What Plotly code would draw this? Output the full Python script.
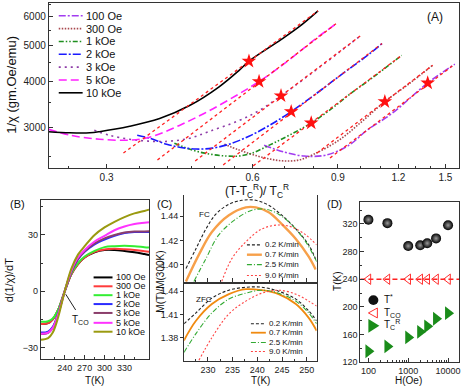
import math
import plotly.graph_objects as go

W, H = 463, 392
FONT = "Liberation Sans, Arial, sans-serif"

# ---------------- Panel A data: 1/chi vs reduced temperature ----------------
field_labels = ["100 Oe", "300 Oe", "1 kOe", "2 kOe", "3 kOe", "5 kOe", "10 kOe"]
a_x_100 = [0.634, 0.697, 0.767, 0.851, 0.949, 1.033, 1.163, 1.379, 1.568]
a_y_100 = [2684, 2570, 2507, 2522, 2684, 2945, 3272, 3963, 4459]
a_x_300 = [0.525, 0.563, 0.605, 0.650, 0.697, 0.749, 0.804, 0.905, 1.009, 1.125, 1.261, 1.412]
a_y_300 = [2700, 2602, 2522, 2461, 2431, 2446, 2538, 2770, 3113, 3525, 3940, 4431]
a_x_1k = [0.414, 0.451, 0.489, 0.530, 0.563, 0.599, 0.650, 0.714, 0.793, 0.863, 0.949, 1.058, 1.219]
a_y_1k = [2717, 2602, 2538, 2507, 2507, 2554, 2684, 2855, 3084, 3333, 3681, 4088, 4713]
a_x_2k = [0.347, 0.368, 0.399, 0.424, 0.459, 0.496, 0.537, 0.590, 0.650, 0.721, 0.811, 0.918, 1.043, 1.110]
a_y_2k = [2855, 2803, 2700, 2650, 2619, 2634, 2700, 2838, 3037, 3312, 3703, 4192, 4744, 5077]
a_x_3k = [0.283, 0.304, 0.335, 0.368, 0.404, 0.445, 0.489, 0.563, 0.619, 0.687, 0.785, 0.905, 1.009]
a_y_3k = [2945, 2855, 2784, 2751, 2751, 2803, 2926, 3132, 3333, 3657, 4164, 4802, 5368]
a_x_5k = [0.228, 0.252, 0.290, 0.335, 0.368, 0.424, 0.489, 0.563, 0.619, 0.691, 0.811, 0.892]
a_y_5k = [2963, 2857, 2786, 2770, 2820, 3037, 3333, 3703, 4000, 4431, 5238, 5744]
a_x_10k = [0.228, 0.252, 0.277, 0.290, 0.335, 0.386, 0.445, 0.512, 0.563, 0.590, 0.687, 0.749, 0.819]
a_y_10k = [2920, 2900, 2900, 2920, 3020, 3170, 3440, 3870, 4290, 4543, 5200, 5640, 6230]

# linear (log-log) fits, one per field (same order as field_labels)
fit_x0 = [0.867, 0.815, 0.602, 0.522, 0.457, 0.382, 0.325]
fit_y0 = [2477, 2554, 2357, 2371, 2431, 2446, 2554]
fit_x1 = [1.568, 1.412, 1.219, 1.110, 1.009, 0.892, 0.819]
fit_y1 = [4459, 4431, 4713, 5077, 5368, 5744, 6230]
star_x = [1.379, 1.125, 0.793, 0.721, 0.687, 0.619, 0.590]
star_y = [3963, 3525, 3084, 3312, 3657, 4000, 4543]

a_xticks = [0.3, 0.6, 0.9, 1.2, 1.5]
a_yticks = [3000, 4000, 5000, 6000]

# ---------------- Panel B data: d(1/chi)/dT vs T ----------------
b_T = [204, 215, 222, 230, 240, 250, 260, 270, 285, 300, 315, 330, 345, 360, 367]
b_100 = [-17.4, -17.0, -15.0, -10.0, 0, 9.0, 14.5, 18.0, 20.8, 22.0, 22.0, 21.5, 20.8, 19.8, 19.3]
b_300 = [-17.4, -17.0, -15.0, -10.0, 0, 9.0, 14.5, 18.0, 21.0, 22.3, 22.6, 22.4, 22.0, 21.3, 21.0]
b_1k = [-16.3, -16.0, -14.5, -10.0, 0, 9.5, 15.0, 18.5, 21.5, 23.5, 24.0, 24.2, 24.0, 23.5, 23.3]
b_2k = [-22.0, -21.5, -19.0, -12.0, 0, 10.5, 17.0, 21.0, 25.0, 27.5, 29.5, 31.0, 31.5, 31.5, 31.5]
b_3k = [-22.8, -22.2, -19.5, -12.3, 0, 10.5, 17.2, 21.3, 25.5, 28.2, 30.0, 31.3, 31.8, 31.8, 31.9]
b_5k = [-22.6, -22.0, -19.5, -12.5, 0, 11.0, 18.0, 22.0, 26.5, 29.5, 32.5, 34.5, 35.8, 36.5, 36.8]
b_10k = [-25.8, -25.0, -22.0, -14.0, 0, 12.0, 19.5, 24.0, 30.0, 34.0, 37.0, 39.5, 41.5, 42.8, 43.5]
b_xticks = [240, 270, 300, 330]
b_yticks = [-30, 0, 30]

# ---------------- Panel C data: M(T)/M(300K) ----------------
rate_labels = ["0.2 K/min", "0.7 K/min", "2.5 K/min", "9.0 K/min"]
fc_T_02 = [225.56, 227.58, 229.6, 231.6, 234.24, 236.87, 239.7, 242.3, 244.95, 247.8, 250.4, 252.0]
fc_M_02 = [1.3967, 1.4131, 1.4294, 1.4416, 1.4498, 1.4531, 1.4531, 1.4490, 1.4408, 1.4294, 1.4163, 1.4025]
fc_T_07 = [225.56, 228.18, 230.8, 234.24, 237.68, 239.7, 242.3, 244.95, 247.8, 250.4, 251.8]
fc_M_07 = [1.3861, 1.4082, 1.4269, 1.4408, 1.4473, 1.4473, 1.4433, 1.4335, 1.4212, 1.4065, 1.3959]
fc_T_25 = [227.17, 229.6, 232.2, 235.66, 238.9, 241.7, 244.3, 247.0, 249.8, 252.0]
fc_M_25 = [1.3861, 1.4049, 1.4245, 1.4376, 1.4449, 1.4457, 1.4416, 1.4327, 1.4188, 1.4025]
fc_T_90 = [232.8, 234.85, 237.68, 240.9, 244.3, 247.0, 249.8, 252.0]
fc_M_90 = [1.3861, 1.4049, 1.4188, 1.4294, 1.4327, 1.4310, 1.4245, 1.4163]

zfc_T = [225.15, 227.58, 230.8, 234.24, 237.68, 240.9, 244.3, 247.8, 250.4, 252.0]
zfc_M_02 = [1.3979, 1.4119, 1.4311, 1.4413, 1.4451, 1.4451, 1.4400, 1.4298, 1.4145, 1.4017]
zfc_M_07 = [1.3762, 1.4017, 1.4234, 1.4362, 1.4426, 1.4413, 1.4362, 1.4234, 1.4055, 1.3889]
zfc_M_25 = [1.3608, 1.3851, 1.4119, 1.4298, 1.4374, 1.4413, 1.4374, 1.4272, 1.4119, 1.3979]
zfc_T_90 = [228.18, 230.8, 234.24, 237.68, 240.9, 244.3, 247.8, 250.4, 252.0]
zfc_M_90 = [1.3506, 1.3800, 1.4106, 1.4272, 1.4374, 1.4413, 1.4362, 1.4272, 1.4208]
c_xticks = [230, 235, 240, 245, 250]

# ---------------- Panel D data ----------------
d_field = [100, 300, 1000, 2000, 3000, 5000, 10000]
d_tstar = [326, 321, 288, 289, 292, 299, 318]
d_tco = [240, 240, 240, 240, 240, 240, 240]
d_tcr = [136, 143, 156, 164, 172, 183, 191]
d_yticks = [120, 160, 200, 240, 280, 320]
d_xticks = [100, 1000, 10000]


def PX(p):
    return p / W


def PY(p):
    return 1 - p / H


fig = go.Figure()

# ---- Panel A traces ----
a_x = [a_x_100, a_x_300, a_x_1k, a_x_2k, a_x_3k, a_x_5k, a_x_10k]
a_y = [a_y_100, a_y_300, a_y_1k, a_y_2k, a_y_3k, a_y_5k, a_y_10k]
a_colors = ["#a23cf0", "#a8484e", "#1f8f1f", "#1a1aff", "#8e3ca8", "#ff20ff", "#000000"]
a_dash = ["7px,2px,2px,2px", "1.5px,1.5px", "5px,2px,1.5px,2px,1.5px,2px",
          "8px,2px,2px,2px", "2px,4px", "8px,4px", "solid"]
for xs, ys, c, d in zip(a_x, a_y, a_colors, a_dash):
    fig.add_trace(go.Scatter(x=xs, y=ys, mode="lines", xaxis="x", yaxis="y",
                             line=dict(color=c, width=1.6, dash=d, shape="spline", smoothing=1.0),
                             showlegend=False, hoverinfo="skip"))
for x0, y0, x1, y1 in zip(fit_x0, fit_y0, fit_x1, fit_y1):
    fig.add_trace(go.Scatter(x=[x0, x1], y=[y0, y1], mode="lines", xaxis="x", yaxis="y",
                             line=dict(color="#ff2020", width=1.3, dash="3px,3px"),
                             showlegend=False, hoverinfo="skip"))
fig.add_trace(go.Scatter(x=star_x, y=star_y, mode="markers", xaxis="x", yaxis="y",
                         marker=dict(symbol="star", size=11, color="#ff1010", line=dict(width=0)),
                         showlegend=False, hoverinfo="skip"))

# ---- Panel B traces ----
b_vals = [b_100, b_300, b_1k, b_2k, b_3k, b_5k, b_10k]
b_colors = ["#000000", "#ff3b3b", "#33ee33", "#2b2bff", "#8b3d6b", "#ff33ff", "#9a9a10"]
for v, c in zip(b_vals, b_colors):
    fig.add_trace(go.Scatter(x=b_T, y=v, mode="lines", xaxis="x2", yaxis="y2",
                             line=dict(color=c, width=2, shape="spline", smoothing=1.0),
                             showlegend=False, hoverinfo="skip"))

# ---- Panel C traces ----
c_colors = ["#222222", "#f7a04a", "#33aa33", "#ff4444"]
c_dash = ["3px,2px", "solid", "5px,2px,1px,2px", "2px,2px"]
c_width = [1.1, 2.4, 1.1, 1.1]
fc_T = [fc_T_02, fc_T_07, fc_T_25, fc_T_90]
fc_M = [fc_M_02, fc_M_07, fc_M_25, fc_M_90]
for t, m, c, d, w in zip(fc_T, fc_M, c_colors, c_dash, c_width):
    fig.add_trace(go.Scatter(x=t, y=m, mode="lines", xaxis="x3", yaxis="y3",
                             line=dict(color=c, width=w, dash=d, shape="spline", smoothing=1.0),
                             showlegend=False, hoverinfo="skip"))
zfc_Ts = [zfc_T, zfc_T, zfc_T, zfc_T_90]
zfc_Ms = [zfc_M_02, zfc_M_07, zfc_M_25, zfc_M_90]
zfc_colors = ["#222222", "#f08a10", "#33aa33", "#ff4444"]
zfc_width = [1.1, 1.8, 1.1, 1.1]
for t, m, c, d, w in zip(zfc_Ts, zfc_Ms, zfc_colors, c_dash, zfc_width):
    fig.add_trace(go.Scatter(x=t, y=m, mode="lines", xaxis="x4", yaxis="y4",
                             line=dict(color=c, width=w, dash=d, shape="spline", smoothing=1.0),
                             showlegend=False, hoverinfo="skip"))

# ---- Panel D traces ----
fig.add_trace(go.Scatter(x=d_field, y=d_tstar, mode="markers", xaxis="x5", yaxis="y5",
                         marker=dict(symbol="circle", size=10, color="#000000",
                                     gradient=dict(type="radial", color="#9a9a9a"), line=dict(width=0)),
                         showlegend=False, hoverinfo="skip"))
fig.add_trace(go.Scatter(x=d_field, y=d_tco, mode="markers", xaxis="x5", yaxis="y5",
                         marker=dict(symbol="triangle-left-open", size=9, color="#ff3030", line=dict(width=1)),
                         showlegend=False, hoverinfo="skip"))
fig.add_trace(go.Scatter(x=d_field, y=d_tcr, mode="markers", xaxis="x5", yaxis="y5",
                         marker=dict(symbol="triangle-right", size=12, color="#1a8c1a", line=dict(width=0)),
                         showlegend=False, hoverinfo="skip"))


# ---- Axes ----
def axis(**kw):
    d = dict(showline=True, linecolor="#333333", linewidth=1, mirror=True, ticks="inside",
             ticklen=4, tickcolor="#333333", showgrid=False, zeroline=False,
             tickfont=dict(family=FONT, size=9, color="#222222"))
    d.update(kw)
    return d


minor_in = dict(ticks="inside", ticklen=2, tickcolor="#333333")

fig.update_layout(
    xaxis=axis(type="log", range=[math.log10(0.228), math.log10(1.60)],
               domain=[PX(49), PX(461)], anchor="y", tickmode="array",
               tickvals=a_xticks, ticktext=[str(v) for v in a_xticks],
               tickfont=dict(family=FONT, size=10, color="#222222"),
               minor=dict(tickmode="array", tickvals=[0.25, 0.35, 0.4, 0.45, 0.5, 0.55, 0.7, 0.8,
                                                      1.0, 1.1, 1.3, 1.4], **minor_in)),
    yaxis=axis(type="log", range=[math.log10(2328), math.log10(6547)],
               domain=[PY(170), PY(3)], anchor="x", tickmode="array",
               tickvals=a_yticks, ticktext=[str(v) for v in a_yticks],
               tickfont=dict(family=FONT, size=10, color="#222222"),
               minor=dict(tickmode="array", tickvals=[2500, 3500, 4500, 5500, 6500], **minor_in)),
    xaxis2=axis(range=[204, 367.5], domain=[PX(41), PX(150)], anchor="y2",
                tickmode="array", tickvals=b_xticks,
                minor=dict(tickmode="array", tickvals=[225, 255, 285, 315, 345], **minor_in)),
    yaxis2=axis(range=[-36.3, 48.4], domain=[PY(364), PY(203)], anchor="x2",
                tickmode="array", tickvals=b_yticks,
                minor=dict(tickmode="array", tickvals=[-15, 15, 45], **minor_in)),
    xaxis3=axis(range=[225.2, 252.0], domain=[PX(185), PX(318)], anchor="y3",
                tickmode="array", tickvals=c_xticks, showticklabels=False, mirror=False,
                minor=dict(tickmode="array", tickvals=[227.5, 232.5, 237.5, 242.5, 247.5], **minor_in)),
    yaxis3=axis(range=[1.3853, 1.4571], domain=[PY(286), PY(198)], anchor="x3",
                tickmode="array", tickvals=[1.40, 1.42, 1.44], ticktext=["1.40", "1.42", "1.44"],
                ticks="outside", ticklen=3),
    xaxis4=axis(range=[225.2, 252.0], domain=[PX(185), PX(318)], anchor="y4",
                tickmode="array", tickvals=c_xticks,
                minor=dict(tickmode="array", tickvals=[227.5, 232.5, 237.5, 242.5, 247.5], **minor_in)),
    yaxis4=axis(range=[1.3493, 1.4489], domain=[PY(366), PY(288)], anchor="x4",
                tickmode="array", tickvals=[1.38, 1.41, 1.44], ticktext=["1.38", "1.41", "1.44"],
                ticks="outside", ticklen=3),
    xaxis5=axis(type="log", range=[1.8, 4.275], domain=[PX(362), PX(461)], anchor="y5",
                tickmode="array", tickvals=d_xticks, ticktext=[str(v) for v in d_xticks],
                minor=dict(tickmode="array", tickvals=[200, 300, 400, 500, 600, 700, 800, 900,
                                                       2000, 3000, 4000, 5000, 6000, 7000, 8000, 9000],
                           **minor_in)),
    yaxis5=axis(range=[120, 351], domain=[PY(367), PY(205)], anchor="x5",
                tickmode="array", tickvals=d_yticks,
                minor=dict(tickmode="array", tickvals=[140, 180, 220, 260, 300, 340], **minor_in)),
)

# ---- Shapes: D reference line, legends, arrow ----
shapes = []
shapes.append(dict(type="line", xref="x5 domain", yref="y5", x0=0, x1=1, y0=d_tco[0], y1=d_tco[0],
                   line=dict(color="#ff2020", width=1.5, dash="5px,3px"), layer="below"))

annotations = []


def text(px, py, s, size, xanchor="center", yanchor="middle", angle=0, color="#111111"):
    annotations.append(dict(x=PX(px), y=PY(py), xref="paper", yref="paper", text=s, showarrow=False,
                            xanchor=xanchor, yanchor=yanchor, textangle=angle,
                            font=dict(family=FONT, size=size, color=color)))


# legend A
a_rows = [16, 29, 42, 55, 68, 81, 94]
for py, lab, c, d in zip(a_rows, field_labels, a_colors, a_dash):
    shapes.append(dict(type="line", xref="paper", yref="paper", x0=PX(59), x1=PX(83), y0=PY(py), y1=PY(py),
                       line=dict(color=c, width=1.6, dash=d)))
    text(84, py, lab, 11, xanchor="left")

# legend B
b_rows = [281, 290, 299, 308, 317, 327, 336]
for py, lab, c in zip(b_rows, field_labels, b_colors):
    shapes.append(dict(type="line", xref="paper", yref="paper", x0=PX(94), x1=PX(113), y0=PY(py), y1=PY(py),
                       line=dict(color=c, width=2)))
    text(114, py, lab, 9, xanchor="left")

# legend C (FC and ZFC)
for rows, x0, cols, widths in (([248, 258, 268, 279], 248, c_colors, c_width),
                               ([328, 337, 347, 356], 252, zfc_colors, zfc_width)):
    for py, lab, c, d, w in zip(rows, rate_labels, cols, c_dash, widths):
        shapes.append(dict(type="line", xref="paper", yref="paper", x0=PX(x0), x1=PX(x0 + 15),
                           y0=PY(py), y1=PY(py), line=dict(color=c, width=w, dash=d)))
        text(x0 + 16, py, lab, 8, xanchor="left")

# legend D glyphs
shapes.append(dict(type="circle", xref="paper", yref="paper", x0=PX(370), x1=PX(380), y0=PY(309), y1=PY(299),
                   fillcolor="#111111", line=dict(color="#111111", width=0)))
shapes.append(dict(type="path", xref="paper", yref="paper",
                   path=f"M {PX(370)} {PY(317)} L {PX(379)} {PY(312)} L {PX(379)} {PY(322)} Z",
                   line=dict(color="#ff3030", width=1)))
shapes.append(dict(type="path", xref="paper", yref="paper",
                   path=f"M {PX(381)} {PY(330)} L {PX(370)} {PY(323)} L {PX(370)} {PY(337)} Z",
                   fillcolor="#1a8c1a", line=dict(color="#1a8c1a", width=0)))
text(384, 303, "T<sup>*</sup>", 10, xanchor="left")
text(384, 317, "T<sub>CO</sub>", 10, xanchor="left")
text(384, 329, "T<sub>C</sub><sup>R</sup>", 10, xanchor="left")

# B arrow to T_CO
shapes.append(dict(type="line", xref="paper", yref="paper", x0=PX(76), x1=PX(66), y0=PY(314), y1=PY(298),
                   line=dict(color="#222222", width=1)))
text(81, 324, "T<sub>CO</sub>", 10)

# panel labels & axis titles
text(437, 17, "(A)", 12)
text(18, 207, "(B)", 11)
text(165, 207, "(C)", 11)
text(336, 207, "(D)", 11)
text(258, 193, "(T-T<sub>C</sub><sup>R</sup>)/ T<sub>C</sub><sup>R</sup>", 12)
text(12, 86, "1/χ (gm.Oe/emu)", 13, angle=-90)
text(9, 283, "d(1/χ)/dT", 11, angle=-90)
text(95, 385, "T(K)", 10)
text(161, 285, "M(T)/M(300K)", 10, angle=-90)
text(262, 385, "T(K)", 10)
text(339, 285, "T(K)", 10, angle=-90)
text(410, 385, "H(Oe)", 10)
text(198, 217, "FC", 8, xanchor="left")
text(195, 303, "ZFC", 8, xanchor="left")

fig.update_layout(
    width=W, height=H, margin=dict(l=0, r=0, t=0, b=0),
    paper_bgcolor="white", plot_bgcolor="white",
    showlegend=False, shapes=shapes, annotations=annotations,
    font=dict(family=FONT, size=10, color="#111111"),
)

fig.write_html("out.html", config={"displayModeBar": False},
               post_script="document.body.style.margin='0';document.body.style.padding='0';"
                           "window.dispatchEvent(new Event('resize'));")
